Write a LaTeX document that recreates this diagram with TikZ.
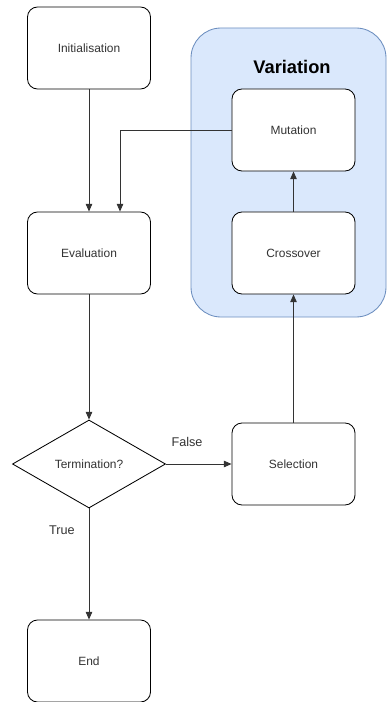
\documentclass[tikz,border=0pt]{standalone}
\usepackage{fontspec}
\setmainfont{Liberation Sans}
\usetikzlibrary{arrows.meta, positioning, shapes.geometric}
\definecolor{varfill}{HTML}{DAE8FC}
\definecolor{varline}{HTML}{6C8EBF}
\definecolor{txtgray}{HTML}{333333}

\begin{document}
\begin{tikzpicture}[x=0.025cm, y=-0.025cm,
    stepbox/.style={draw, rounded corners=0.25cm, fill=white, text=txtgray,
        minimum width=3.075cm, minimum height=2.05cm, line width=0.6pt,
        font=\fontsize{8.5}{10}\selectfont},
    testbox/.style={draw, diamond, fill=white, text=txtgray, inner sep=0pt,
        minimum width=3.825cm, minimum height=2.2cm, line width=0.6pt,
        font=\fontsize{8.5}{10}\selectfont},
    flow/.style={draw=black!80, line width=0.6pt, -{Triangle[length=1.9mm, width=1.6mm]}},
    edgelabel/.style={text=txtgray, font=\fontsize{9}{11}\selectfont}]
    \useasboundingbox (0,0) rectangle (387,702);

    % variation group
    \draw[fill=varfill, draw=varline, line width=0.6pt, rounded corners=0.75cm]
        (191,28) rectangle (386,317);
    \node[font=\fontsize{13}{15}\selectfont\bfseries] (vartitle) at (292,67) {Variation};

    % main loop
    \node[stepbox] (init) at (89,48) {Initialisation};
    \node[stepbox] (eval) at (89,253) {Evaluation};
    \node[testbox] (term) at (89,464) {Termination?};
    \node[stepbox] (end) at (89,661) {End};

    \node[stepbox] (select) at (293.5,464) {Selection};
    \node[stepbox] (cross) at (293.5,253) {Crossover};
    \node[stepbox] (mutate) at (293.5,130) {Mutation};

    \draw[flow] (init) -- (eval);
    \draw[flow] (eval) -- (term);
    \draw[flow] (term) -- (end);
    \draw[flow] (term) -- (select);
    \draw[flow] (select) -- (cross);
    \draw[flow] (cross) -- (mutate);
    \draw[flow] (mutate.west) -| ([xshift=0.775cm]eval.north);

    \node[edgelabel] (falselbl) at (187,442) {False};
    \node[edgelabel] (truelbl) at (62,530) {True};
\end{tikzpicture}
\end{document}
